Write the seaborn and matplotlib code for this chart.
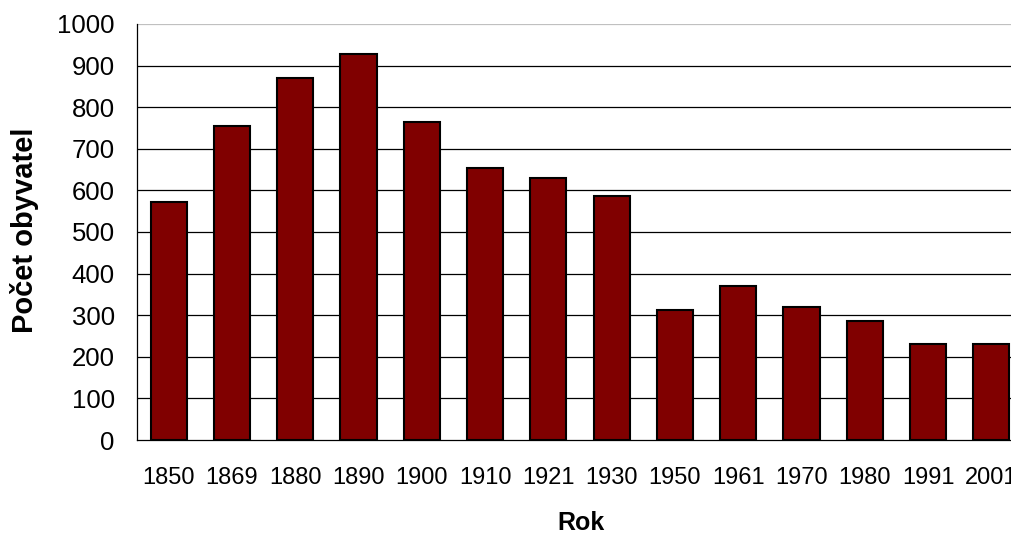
import matplotlib
matplotlib.use("Agg")
import matplotlib.pyplot as plt
import seaborn as sns
import pandas as pd
import numpy as np

years = ["1850", "1869", "1880", "1890", "1900", "1910", "1921", "1930",
         "1950", "1961", "1970", "1980", "1991", "2001"]
population = [572, 755, 870, 928, 764, 654, 630, 586, 312, 369, 320, 287, 230, 230]
y_ticks = [0, 100, 200, 300, 400, 500, 600, 700, 800, 900, 1000]

sns.set_style("white")
plt.rcParams['font.family'] = ['Liberation Sans', 'DejaVu Sans']
plt.rcParams['text.color'] = 'black'
plt.rcParams['xtick.color'] = 'black'
plt.rcParams['ytick.color'] = 'black'

df = pd.DataFrame({"Rok": years, "Počet obyvatel": population})

W, H = 1012, 535
fig = plt.figure(figsize=(W / 100, H / 100), dpi=100)
left, right, top, bottom = 137, 1023, 24, 440
ax = fig.add_axes([left / W, 1 - bottom / H, (right - left) / W, (bottom - top) / H])

ax.set_axisbelow(True)
for v in y_ticks[1:]:
    ax.axhline(v, color="#000000" if v < 1000 else "#c0c0c0", lw=0.9, zorder=0)

sns.barplot(data=df, x="Rok", y="Počet obyvatel", color="#800000", width=0.57,
            edgecolor="black", linewidth=1.5, saturation=1, ax=ax, zorder=2)

ax.set_xlim(-0.5, len(years) - 0.5)
ax.set_ylim(0, 1000)
ax.set_yticks(y_ticks)
ax.set_yticklabels([str(v) for v in y_ticks], fontsize=18.5)
ax.set_xticks(range(len(years)))
ax.set_xticklabels(years, fontsize=17)
ax.set_xticks(np.arange(-0.5, len(years), 1.0), minor=True)
ax.tick_params(axis="x", which="major", length=0, pad=19.5)
ax.tick_params(axis="x", which="minor", length=4.5, width=0.9, direction="out", color="black")
ax.tick_params(axis="y", which="major", length=7, width=0.9, direction="out", color="black", pad=9)

for s in ["top", "right"]:
    ax.spines[s].set_visible(False)
for s in ["left", "bottom"]:
    ax.spines[s].set_color("black")
    ax.spines[s].set_linewidth(0.9)

ax.set_xlabel("")
ax.set_ylabel("")
fig.text(25 / W, 1 - 230 / H, "Počet obyvatel", rotation=90, ha="center", va="center",
         fontsize=21, fontweight="bold")
fig.text(581 / W, 1 - 530 / H, "Rok", ha="center", va="baseline",
         fontsize=18, fontweight="bold")

fig.savefig("out.png", dpi=100)
